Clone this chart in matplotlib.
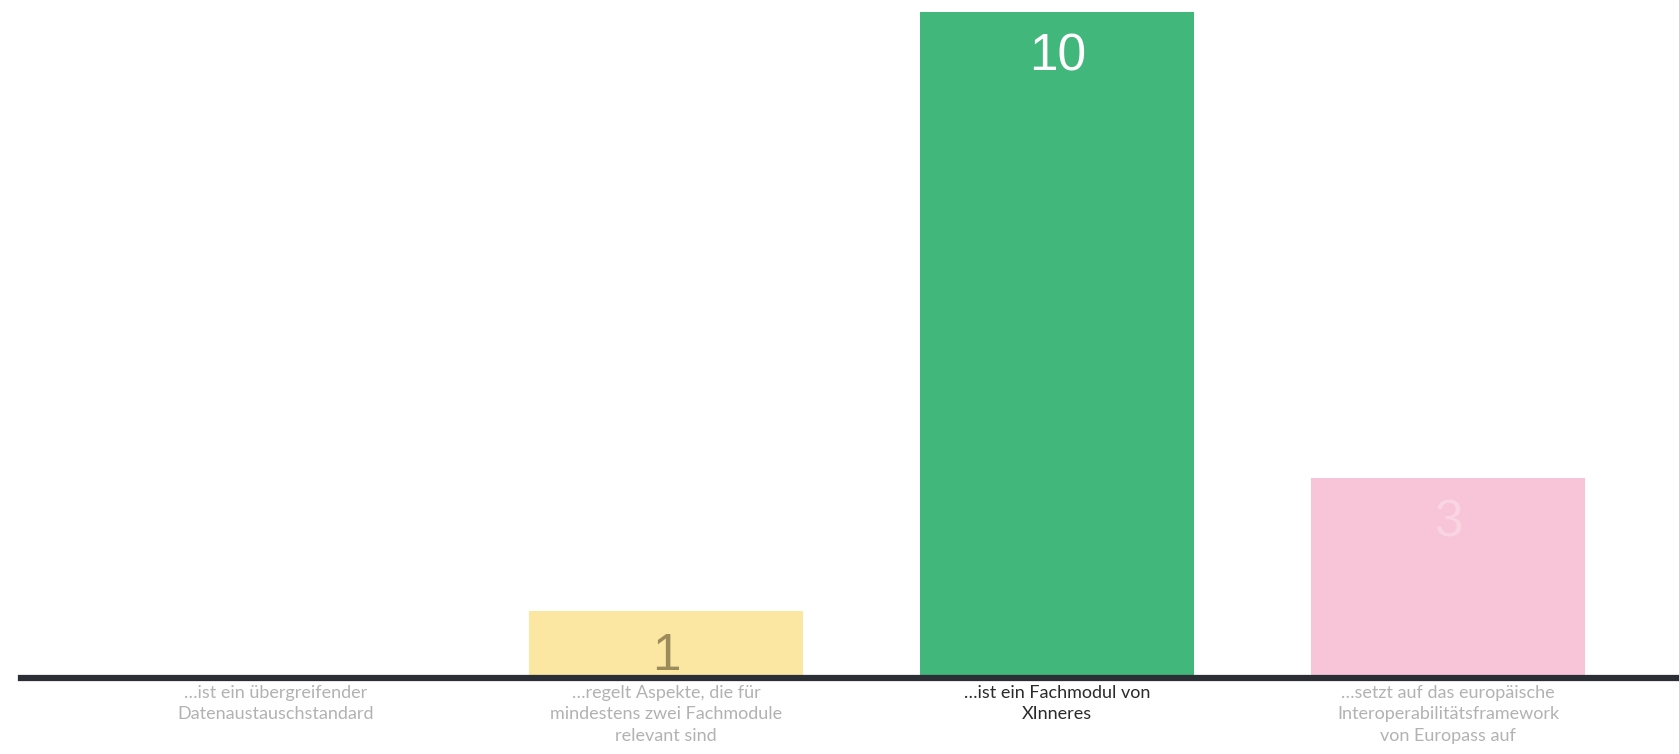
import matplotlib.pyplot as plt

# data
categories = [
    "…ist ein übergreifender\nDatenaustauschstandard",
    "…regelt Aspekte, die für\nmindestens zwei Fachmodule\nrelevant sind",
    "…ist ein Fachmodul von\nXInneres",
    "…setzt auf das europäische\nInteroperabilitätsframework\nvon Europass auf",
]
values = [0, 1, 10, 3]

bar_colors = ["#fbe6a2", "#fbe6a2", "#42b77b", "#f7c5d7"]
value_colors = ["#9c8c5c", "#9c8c5c", "#ffffff", "#f9d4e1"]
label_colors = ["#b2b2b2", "#b2b2b2", "#2a2a2a", "#b2b2b2"]

fig = plt.figure(figsize=(16.79, 7.54), dpi=100)
ax = fig.add_axes([21 / 1679, 76 / 754, 1 - 21 / 1679, (678 - 12) / 754])

x = list(range(len(values)))
ax.bar(x, values, width=0.70, color=bar_colors, zorder=1)

for xi, v, c in zip(x, values, value_colors):
    if v > 0:
        ax.annotate(str(v), (xi, v), xytext=(0, -45), textcoords="offset pixels",
                    ha="center", va="center", fontsize=37, color=c,
                    family=["Liberation Sans", "DejaVu Sans"])

ax.set_xlim(-0.65, 3.59)
ax.set_ylim(0, 10)

for s in ["top", "right", "left"]:
    ax.spines[s].set_visible(False)
ax.spines["bottom"].set_linewidth(4.5)
ax.spines["bottom"].set_color("#2b2e35")
ax.spines["bottom"].set_zorder(3)
ax.set_yticks([])

ax.set_xticks(x)
ax.set_xticklabels(categories, fontsize=13, linespacing=1.42,
                   family=["Lato", "DejaVu Sans"])
for lbl, c in zip(ax.get_xticklabels(), label_colors):
    lbl.set_color(c)
ax.tick_params(axis="x", length=0, pad=5)

fig.savefig("out.png", dpi=100)
